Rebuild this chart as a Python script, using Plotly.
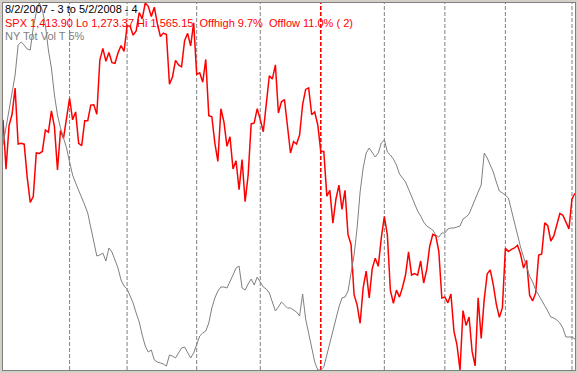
import plotly.graph_objects as go

# S&P 500 daily closes, 8/2/2007 .. 5/2/2008 (trading days)
spx_aug = [1472.20, 1433.06, 1467.67, 1476.71, 1497.49, 1453.09, 1453.64, 1452.92, 1426.54, 1406.70,
           1411.27, 1445.94, 1445.55, 1447.12, 1464.07, 1462.50, 1479.37, 1466.79, 1432.36, 1463.76,
           1457.64, 1473.99]
spx_sep = [1489.42, 1472.29, 1478.55, 1453.55, 1451.70, 1471.49, 1471.56, 1483.95, 1484.25, 1476.65,
           1519.78, 1529.03, 1518.75, 1525.75, 1517.73, 1517.21, 1525.42, 1531.38, 1526.75]
spx_oct = [1547.04, 1546.63, 1539.59, 1542.84, 1557.59, 1552.58, 1565.15, 1562.47, 1554.41, 1561.80,
           1548.71, 1538.53, 1541.24, 1540.08, 1500.63, 1506.33, 1519.59, 1515.88, 1514.40, 1535.28,
           1540.98, 1531.02, 1549.38]
spx_nov = [1508.44, 1509.65, 1502.17, 1520.27, 1475.62, 1474.77, 1453.70, 1439.18, 1481.05, 1470.58,
           1451.15, 1458.74, 1433.27, 1439.70, 1416.77, 1440.70, 1407.22, 1428.23, 1469.02, 1469.72,
           1481.14]
spx_dec = [1472.42, 1462.79, 1485.01, 1507.34, 1504.66, 1515.96, 1477.65, 1486.59, 1488.41, 1467.95,
           1445.90, 1454.98, 1453.00, 1460.12, 1484.46, 1496.45, 1497.66, 1476.27, 1478.49, 1468.36]
spx_jan = [1447.16, 1447.16, 1411.63, 1416.18, 1390.19, 1409.13, 1420.33, 1401.02, 1416.25, 1380.95,
           1373.20, 1333.25, 1325.19, 1310.50, 1338.60, 1352.07, 1330.61, 1353.96, 1362.30, 1355.81,
           1378.55]
spx_feb = [1395.42, 1380.82, 1336.64, 1326.45, 1336.91, 1331.29, 1339.13, 1348.86, 1367.21, 1348.86,
           1349.99, 1348.78, 1360.03, 1342.53, 1353.11, 1371.80, 1381.29, 1380.02, 1367.68, 1330.63]
spx_mar = [1331.34, 1326.75, 1333.70, 1304.34, 1293.37, 1273.37, 1320.65, 1308.77, 1315.48, 1288.14,
           1276.60, 1330.74, 1298.42, 1329.51, 1349.88, 1352.99, 1341.13, 1325.76, 1315.22, 1322.70]
spx_apr = [1370.18, 1367.53, 1369.31, 1370.40, 1372.54, 1365.54, 1354.49, 1360.55, 1332.83, 1328.32,
           1334.43, 1364.71, 1365.56, 1390.33, 1388.17, 1375.94, 1379.93, 1388.82, 1397.84, 1396.37,
           1390.94, 1385.59]
spx_may = [1409.34, 1413.90]

# NYSE total volume, 5% trend (relative units)
ny_vol_t5 = [225, 242, 260, 277, 295, 325, 328, 325, 321, 320, 342, 358, 367, 360, 345, 320, 302, 275,
             255, 242, 232, 222, 208, 195, 187, 180, 173, 165, 157, 142, 127, 114, 115, 117, 109, 122,
             118, 110, 102, 90, 84, 81, 74, 67, 57, 48, 35, 24, 18, 20, 10, 8, 7, 6, 4, 15, 14, 12, 17,
             22, 23, 17, 12, 17, 25, 34, 37, 39, 47, 62, 72, 79, 83, 83, 82, 88, 95, 102, 104, 82, 80,
             86, 91, 85, 93, 88, 83, 81, 77, 68, 59, 63, 68, 65, 62, 62, 60, 58, 54, 76, 51, 37, 22, 8,
             0, 0, 3, 15, 27, 40, 54, 63, 72, 73, 79, 98, 115, 142, 178, 202, 217, 222, 217, 213, 217,
             227, 230, 218, 215, 211, 205, 196, 192, 188, 181, 173, 167, 159, 154, 148, 144, 142, 140,
             135, 133, 137, 137, 141, 142, 142, 143, 144, 151, 153, 156, 164, 172, 178, 185, 217, 212,
             205, 198, 188, 179, 177, 175, 172, 159, 148, 133, 123, 113, 103, 94, 88, 80, 75, 70, 65,
             59, 53, 52, 50, 47, 42, 33, 33, 33, 31]

# first trading day of each month (index), Jan 2008 marks the new year
month_labels = ["Sep", "Oct", "Nov", "Dec", "Jan", "Feb", "Mar", "Apr", "May"]
month_start_idx = [22, 41, 64, 85, 105, 126, 146, 166, 188]
year_start_labels = ["Jan"]

title_line1 = "8/2/2007 - 3 to 5/2/2008 - 4"
title_line2 = "SPX 1,413.90 Lo 1,273.37 Hi 1,565.15\u00a0\u00a0Offhigh 9.7%\u00a0\u00a0Offlow 11.0% ( 2)"
title_line3 = "NY Tot Vol T 5%"

spx = spx_aug + spx_sep + spx_oct + spx_nov + spx_dec + spx_jan + spx_feb + spx_mar + spx_apr + spx_may
days = list(range(len(spx)))

fig = go.Figure()
fig.add_trace(go.Scatter(x=days, y=ny_vol_t5, mode="lines", yaxis="y2",
                         line=dict(color="#808080", width=1), hoverinfo="skip"))
fig.add_trace(go.Scatter(x=days, y=spx, mode="lines",
                         line=dict(color="#FF0000", width=1.5), hoverinfo="skip"))

shapes = []
for lab, idx in zip(month_labels, month_start_idx):
    red = lab in year_start_labels
    shapes.append(dict(type="line", xref="x", yref="paper", x0=idx, x1=idx, y0=0, y1=1,
                       layer="below",
                       line=dict(color="#FF0000" if red else "#808080",
                                 width=1.6 if red else 1, dash="4px,2px")))

font_kw = dict(family="Liberation Sans, Arial, sans-serif", size=11)
annos = []
for txt, col, ytop in [(title_line1, "#000000", 1.5), (title_line2, "#FF0000", 15.5),
                       (title_line3, "#808080", 29.0)]:
    annos.append(dict(text=txt, xref="paper", yref="paper", x=0.002, y=(370 - ytop) / 367,
                      xanchor="left", yanchor="top", showarrow=False, align="left",
                      font=dict(color=col, **font_kw), borderpad=0))

fig.update_layout(
    width=577, height=373, autosize=False,
    margin=dict(l=3, r=2, t=3, b=3, pad=0),
    paper_bgcolor="#D4D0C8", plot_bgcolor="#FFFFFF",
    showlegend=False, hovermode=False,
    shapes=shapes, annotations=annos,
    xaxis=dict(range=[0, len(spx) - 1], showgrid=False, zeroline=False, showticklabels=False,
               ticks="", showline=True, mirror=True, linecolor="#808080", linewidth=1),
    yaxis=dict(range=[min(spx), max(spx)], showgrid=False, zeroline=False, showticklabels=False,
               ticks="", showline=True, mirror=True, linecolor="#808080", linewidth=1),
    yaxis2=dict(range=[0, 367], overlaying="y", showgrid=False, zeroline=False,
                showticklabels=False, ticks="", showline=False),
)

fig.write_html("out.html", config={"displayModeBar": False, "staticPlot": True},
               post_script="document.body.style.margin='0';document.body.style.overflow='hidden';")
